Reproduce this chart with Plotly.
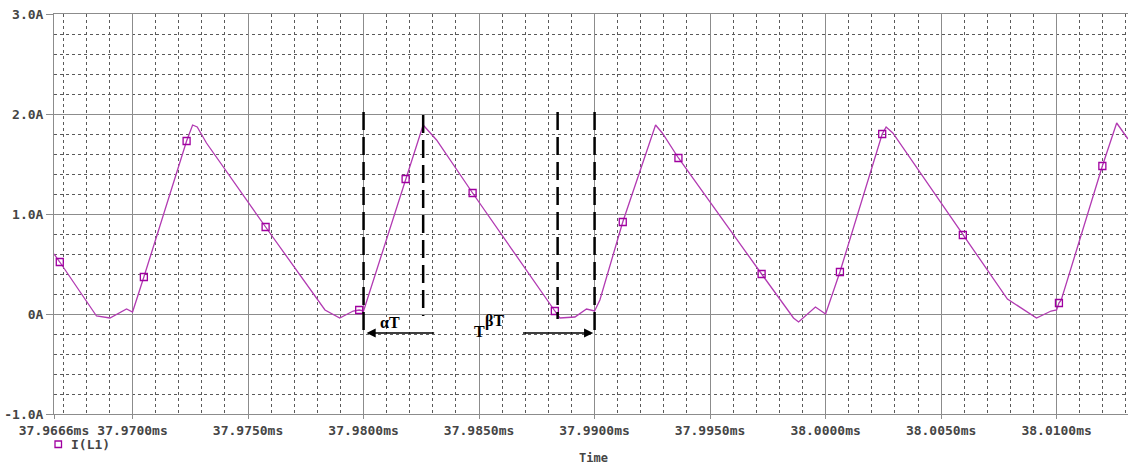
import plotly.graph_objects as go

# ---------------- data ----------------
# I(L1) waveform breakpoints: time in ms, current in A
t_curve_ms = [37.96660, 37.96844, 37.96902, 37.96974, 37.97000, 37.97260, 37.97280, 37.97320,
              37.97833, 37.97897, 37.97955, 37.98000, 37.98258, 37.98316, 37.98850, 37.98915,
              37.98965, 37.99000, 37.99023, 37.99264, 37.99293, 37.99861, 37.99883, 37.99956,
              38.00000, 38.00262, 38.00291, 38.00787, 38.00913, 38.00976, 38.01000, 38.01020,
              38.01260, 38.01309]
i_curve_A = [0.60, -0.02, -0.04, 0.05, 0.02, 1.89, 1.87, 1.71,
             0.04, -0.04, 0.03, 0.03, 1.89, 1.74, -0.04, -0.03,
             0.05, 0.03, 0.14, 1.89, 1.81, -0.04, -0.08, 0.07,
             0.00, 1.87, 1.81, 0.15, -0.04, 0.03, 0.04, 0.14,
             1.91, 1.75]

# PSpice trace markers (open squares) on the same waveform
t_marker_ms = [37.96685, 37.97049, 37.97234, 37.97576, 37.97981, 37.98182, 37.98472, 37.98828,
               37.99122, 37.99363, 37.99723, 38.00062, 38.00245, 38.00594, 38.01010, 38.01198]
i_marker_A = [0.52, 0.37, 1.73, 0.87, 0.04, 1.35, 1.21, 0.03,
              0.92, 1.56, 0.40, 0.42, 1.80, 0.79, 0.11, 1.48]

# axes
x_tick_vals = [37.9666, 37.9700, 37.9750, 37.9800, 37.9850, 37.9900, 37.9950, 38.0000, 38.0050, 38.0100]
x_tick_text = ["37.9666ms", "37.9700ms", "37.9750ms", "37.9800ms", "37.9850ms", "37.9900ms",
               "37.9950ms", "38.0000ms", "38.0050ms", "38.0100ms"]
y_tick_vals = [-1.0, 0.0, 1.0, 2.0, 3.0]
y_tick_text = ["-1.0A", "0A", "1.0A", "2.0A", "3.0A"]
x_range = [37.9666, 38.01309]
y_range = [-1.0, 3.0]

# annotation markers (alpha T / beta T construction)
guide_times = [37.98000, 37.98258, 37.98840, 37.99000]
guide_tops = [2.02, 1.99, 2.02, 2.02]
guide_bottoms = [-0.19, -0.02, -0.05, -0.19]

series_name = "I(L1)"

# ---------------- figure ----------------
# line drawn through breakpoints and marker points merged in time order
merged = sorted(list(zip(t_curve_ms, i_curve_A)) + list(zip(t_marker_ms, i_marker_A)))
t_line = [p[0] for p in merged]
i_line = [p[1] for p in merged]

LINE_COL = "#b23ab2"
MARK_COL = "#a000a0"
MAJ_GRID = "#8c8c8c"
MIN_GRID = "#5a5a5a"
TXT = "#454545"

fig = go.Figure()
fig.add_trace(go.Scatter(x=t_line, y=i_line, mode="lines", name=series_name,
                         line=dict(color=LINE_COL, width=1.3), showlegend=False,
                         hoverinfo="skip"))
fig.add_trace(go.Scatter(x=t_marker_ms, y=i_marker_A, mode="markers", name=series_name,
                         marker=dict(symbol="square-open", size=7, color=MARK_COL,
                                     line=dict(width=1.3, color=MARK_COL)),
                         showlegend=False))

tickfont = dict(family="DejaVu Sans Mono", size=13, color=TXT, weight="bold")

fig.update_xaxes(range=x_range, tickmode="array", tickvals=x_tick_vals, ticktext=x_tick_text,
                 showgrid=True, gridcolor=MAJ_GRID, gridwidth=1, zeroline=False,
                 showline=True, linecolor=MAJ_GRID, linewidth=1, mirror=True,
                 ticks="outside", ticklen=4, tickcolor=MAJ_GRID, tickfont=tickfont,
                 minor=dict(tickmode="linear", tick0=37.97, dtick=0.001, showgrid=True,
                            gridcolor=MIN_GRID, griddash="3px,3px", gridwidth=1, ticks=""))
fig.update_yaxes(range=y_range, tickmode="array", tickvals=y_tick_vals, ticktext=y_tick_text,
                 showgrid=True, gridcolor=MAJ_GRID, gridwidth=1, zeroline=False,
                 showline=True, linecolor=MAJ_GRID, linewidth=1,
                 ticks="outside", ticklen=7, tickcolor=MAJ_GRID, tickfont=tickfont,
                 minor=dict(tickmode="linear", tick0=0, dtick=0.2, showgrid=True,
                            gridcolor=MIN_GRID, griddash="3px,3px", gridwidth=1, ticks=""))

# dashed guide lines
for t, top, bot in zip(guide_times, guide_tops, guide_bottoms):
    fig.add_shape(type="line", xref="x", yref="y", x0=t, x1=t, y0=top, y1=bot,
                  line=dict(color="black", width=2.5, dash="18px,7px"))

serif = dict(family="Liberation Serif", size=16, color="black", weight="bold")
arrow_y = -0.19
# left arrow (alpha T) and right arrow (beta T)
fig.add_annotation(x=37.98013, y=arrow_y, ax=37.98312, ay=arrow_y, xref="x", yref="y",
                   axref="x", ayref="y", text="", showarrow=True, arrowhead=2,
                   arrowsize=1.3, arrowwidth=1.4, arrowcolor="black")
fig.add_annotation(x=37.98994, y=arrow_y, ax=37.98684, ay=arrow_y, xref="x", yref="y",
                   axref="x", ayref="y", text="", showarrow=True, arrowhead=2,
                   arrowsize=1.3, arrowwidth=1.4, arrowcolor="black")
fig.add_annotation(x=37.98114, y=-0.08, xref="x", yref="y", text="αT", showarrow=False,
                   font=serif, xanchor="center", yanchor="middle")
fig.add_annotation(x=37.98503, y=-0.177, xref="x", yref="y", text="T", showarrow=False,
                   font=serif, xanchor="center", yanchor="middle")
fig.add_annotation(x=37.98568, y=-0.07, xref="x", yref="y", text="βT", showarrow=False,
                   font=serif, xanchor="center", yanchor="middle")

# legend-like label and axis title (PSpice style)
PLOT_L, PLOT_T, PLOT_W, PLOT_H = 54, 14, 1074, 400
def px(xp):
    return (xp - PLOT_L) / PLOT_W
def py(yp):
    return (PLOT_T + PLOT_H - yp) / PLOT_H

fig.add_shape(type="rect", xref="paper", yref="paper", x0=px(55), x1=px(61.5),
              y0=py(447.5), y1=py(441), line=dict(color=MARK_COL, width=1.3))
fig.add_annotation(x=px(69), y=py(444), xref="paper", yref="paper", text=series_name,
                   showarrow=False, xanchor="left", yanchor="middle",
                   font=dict(family="DejaVu Sans Mono", size=13, color=TXT, weight="bold"))
fig.add_annotation(x=px(593), y=py(458), xref="paper", yref="paper", text="Time",
                   showarrow=False, xanchor="center", yanchor="middle",
                   font=dict(family="DejaVu Sans Mono", size=12, color=TXT, weight="bold"))

fig.update_layout(width=1128, height=466, margin=dict(l=54, r=0, t=14, b=52),
                  paper_bgcolor="white", plot_bgcolor="white", showlegend=False)

fig.write_html("out.html")
